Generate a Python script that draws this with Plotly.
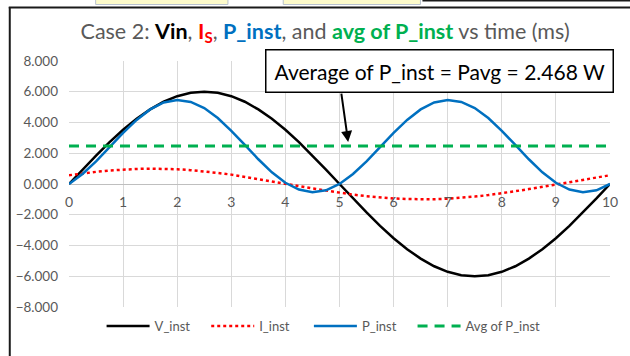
import plotly.graph_objects as go

# Time axis in milliseconds (one cycle of the source, sampled every 0.25 ms)
t_ms = [0.00, 0.25, 0.50, 0.75, 1.00, 1.25, 1.50, 1.75, 2.00, 2.25,
        2.50, 2.75, 3.00, 3.25, 3.50, 3.75, 4.00, 4.25, 4.50, 4.75,
        5.00, 5.25, 5.50, 5.75, 6.00, 6.25, 6.50, 6.75, 7.00, 7.25,
        7.50, 7.75, 8.00, 8.25, 8.50, 8.75, 9.00, 9.25, 9.50, 9.75, 10.00]

v_inst = [0.00, 0.94, 1.85, 2.72, 3.53, 4.24, 4.85, 5.35, 5.71, 5.93,
          6.00, 5.93, 5.71, 5.35, 4.85, 4.24, 3.53, 2.72, 1.85, 0.94,
          0.00, -0.94, -1.85, -2.72, -3.53, -4.24, -4.85, -5.35, -5.71, -5.93,
          -6.00, -5.93, -5.71, -5.35, -4.85, -4.24, -3.53, -2.72, -1.85, -0.94, 0.00]

i_inst = [0.57, 0.69, 0.79, 0.88, 0.94, 0.98, 1.00, 0.99, 0.96, 0.90,
          0.82, 0.72, 0.61, 0.47, 0.33, 0.18, 0.02, -0.13, -0.29, -0.43,
          -0.57, -0.69, -0.79, -0.88, -0.94, -0.98, -1.00, -0.99, -0.96, -0.90,
          -0.82, -0.72, -0.61, -0.47, -0.33, -0.18, -0.02, 0.13, 0.29, 0.43, 0.57]

p_inst = [0.00, 0.65, 1.47, 2.40, 3.33, 4.17, 4.85, 5.30, 5.47, 5.34,
          4.94, 4.29, 3.46, 2.54, 1.61, 0.76, 0.08, -0.36, -0.53, -0.41,
          0.00, 0.65, 1.47, 2.40, 3.33, 4.17, 4.85, 5.30, 5.47, 5.34,
          4.94, 4.29, 3.46, 2.54, 1.61, 0.76, 0.08, -0.36, -0.53, -0.41, 0.00]

p_avg = 2.468
avg_series = [p_avg for _ in t_ms]

x_ticks = [0, 1, 2, 3, 4, 5, 6, 7, 8, 9, 10]
y_ticks = [-8, -6, -4, -2, 0, 2, 4, 6, 8]

FONT = "Lato, Calibri, sans-serif"
GRAY = "#595959"

W, H = 630, 356
ML, MR, MT, MB = 69, 13, 61, 49
PW, PH = W - ML - MR, H - MT - MB


def px(xp):
    return (xp - ML) / PW


def py(yp):
    return (H - MB - yp) / PH


fig = go.Figure()
fig.add_trace(go.Scatter(x=t_ms, y=v_inst, name="V_inst", mode="lines", legend="legend",
                         showlegend=True,
                         line=dict(color="#000000", width=2.5)))
fig.add_trace(go.Scatter(x=t_ms, y=i_inst, name="I_inst", mode="lines", legend="legend2",
                         showlegend=True,
                         line=dict(color="#FF0000", width=2.5, dash="3px,3px")))
fig.add_trace(go.Scatter(x=t_ms, y=p_inst, name="P_inst", mode="lines", legend="legend3",
                         showlegend=True,
                         line=dict(color="#0070C0", width=2.5)))
fig.add_trace(go.Scatter(x=t_ms, y=avg_series, name="Avg of P_inst", mode="lines",
                         legend="legend4", showlegend=True,
                         line=dict(color="#00B050", width=3, dash="10px,7px")))

title = ('<span style="color:#595959">Case 2: </span>'
         '<b><span style="color:#000000">Vin</span></b>'
         '<span style="color:#595959">, </span>'
         '<b><span style="color:#FF0000">I<sub>S</sub></span></b>'
         '<span style="color:#595959">, </span>'
         '<b><span style="color:#0070C0">P_inst</span></b>'
         '<span style="color:#595959">, and </span>'
         '<b><span style="color:#00B050">avg of P_inst</span></b>'
         '<span style="color:#595959"> vs time (ms)</span>')

shapes = [
    # chart frame (left and top edges)
    dict(type="line", xref="paper", yref="paper", x0=px(9), x1=px(9), y0=py(7), y1=py(360),
         line=dict(color="#1a1a1a", width=2)),
    dict(type="line", xref="paper", yref="paper", x0=px(8), x1=px(640), y0=py(7.5), y1=py(7.5),
         line=dict(color="#1a1a1a", width=2)),
    # neighbouring cells peeking above the frame
    dict(type="rect", xref="paper", yref="paper", x0=px(96), x1=px(230), y0=py(4.5), y1=py(-3),
         fillcolor="#FDFBCB", line=dict(color="#B8C2CE", width=1)),
    dict(type="rect", xref="paper", yref="paper", x0=px(286), x1=px(425), y0=py(4.5), y1=py(-3),
         fillcolor="#FDFBCB", line=dict(color="#B8C2CE", width=1)),
    dict(type="line", xref="paper", yref="paper", x0=px(427), x1=px(640), y0=py(0.5), y1=py(0.5),
         line=dict(color="#1a1a1a", width=2)),
]

annotations = [
    dict(x=6.84, y=7.33, xref="x", yref="y", showarrow=False,
         text=f"Average of P_inst = Pavg = {p_avg:.3f} W",
         font=dict(family=FONT, size=21, color="#000000"),
         bgcolor="#FFFFFF", bordercolor="#000000", borderwidth=1.5, borderpad=8),
    dict(x=5.16, y=2.73, xref="x", yref="y", text="", showarrow=True,
         ax=-7, ay=-50, arrowhead=2, arrowsize=1.1, arrowwidth=2, arrowcolor="#000000"),
]


def legend_at(xpix):
    return dict(orientation="h", x=px(xpix), y=py(326), xanchor="left", yanchor="middle",
                itemwidth=43, font=dict(family=FONT, size=13, color=GRAY),
                bgcolor="rgba(0,0,0,0)")


fig.update_layout(
    width=W, height=H,
    showlegend=True,
    margin=dict(l=ML, r=MR, t=MT, b=MB),
    paper_bgcolor="#FFFFFF", plot_bgcolor="#FFFFFF",
    font=dict(family=FONT, color=GRAY, size=13),
    title=dict(text=title, xref="container", yref="container", x=0.516, y=1 - 31 / H,
               xanchor="center", yanchor="middle", font=dict(family=FONT, size=21.5)),
    xaxis=dict(range=[0, 10], tickvals=x_ticks, ticktext=[str(v) for v in x_ticks],
               anchor="free", position=0.5, showline=False, ticks="",
               showgrid=True, gridcolor="#D9D9D9", gridwidth=1, zeroline=False,
               ticklabelstandoff=8, tickfont=dict(size=14, color=GRAY)),
    yaxis=dict(range=[-8, 8], tickvals=y_ticks, tickformat=".3f",
               showgrid=True, gridcolor="#D9D9D9", gridwidth=1,
               zeroline=True, zerolinecolor="#BFBFBF", zerolinewidth=1,
               showline=False, ticks="", ticklabelstandoff=10,
               tickfont=dict(size=13.5, color=GRAY)),
    legend=legend_at(102),
    legend2=legend_at(208),
    legend3=legend_at(312),
    legend4=legend_at(417),
    shapes=shapes,
    annotations=annotations,
)

fig.write_html("out.html")
